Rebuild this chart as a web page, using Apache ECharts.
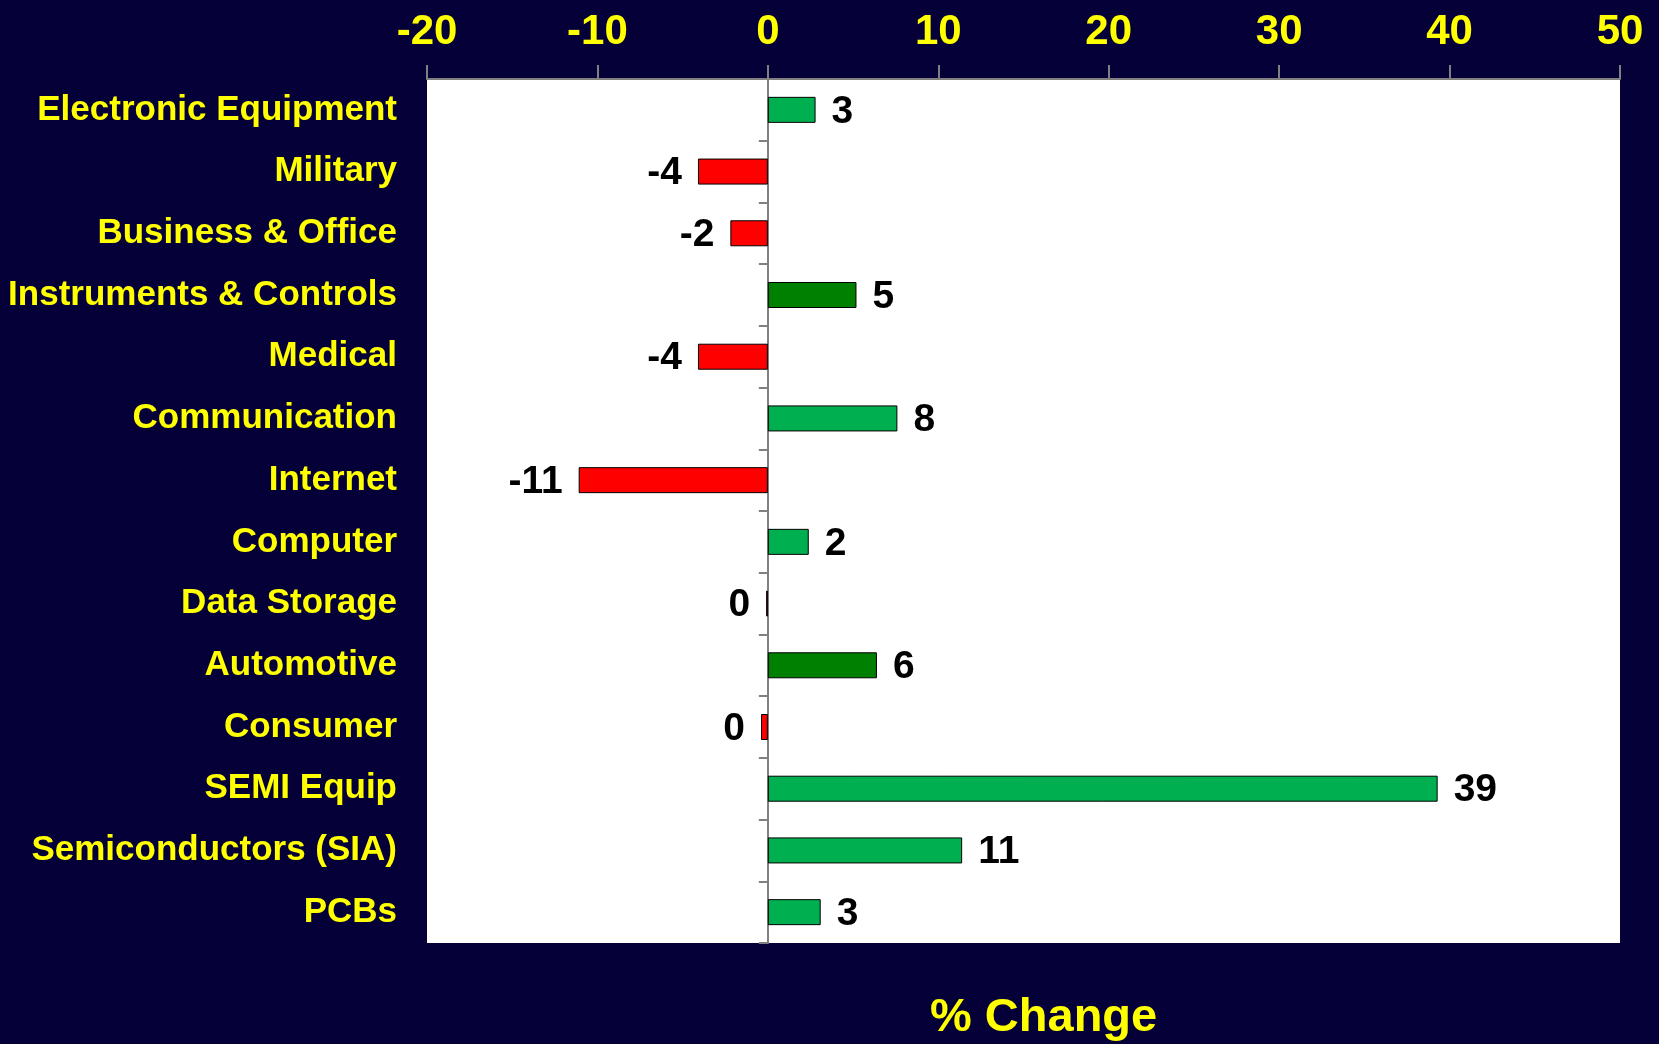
<!DOCTYPE html>
<html>
<head>
<meta charset="utf-8">
<script src="https://cdn.jsdelivr.net/npm/echarts@6/dist/echarts.min.js"></script>
<style>
    html, body { margin: 0; padding: 0; background: #050037; }
</style>
</head>
<body>
<div id="main" style="width: 1659px;height:1044px;"></div>
<script type="text/javascript">
    // categories, top to bottom
    var categories = ['Electronic Equipment', 'Military', 'Business & Office', 'Instruments & Controls',
        'Medical', 'Communication', 'Internet', 'Computer', 'Data Storage', 'Automotive',
        'Consumer', 'SEMI Equip', 'Semiconductors (SIA)', 'PCBs'];
    // % change
    var changes = [2.8, -4.1, -2.2, 5.2, -4.1, 7.6, -11.1, 2.4, -0.1, 6.4, -0.4, 39.3, 11.4, 3.1];
    // the bars drawn in dark green
    var darkGreen = ['Instruments & Controls', 'Automotive'];
    var xTicks = [-20, -10, 0, 10, 20, 30, 40, 50];

    var font = 'Arial, "Liberation Sans", sans-serif';

    var myChart = echarts.init(document.getElementById('main'));

    var barData = changes.map(function (v, i) {
        var color = v < 0 ? '#ff0000' : (darkGreen.indexOf(categories[i]) >= 0 ? '#008000' : '#00b050');
        return {
            value: v,
            itemStyle: {color: color},
            label: {position: v < 0 ? 'left' : 'right'}
        };
    });

    var option = {
        backgroundColor: '#050037',
        animation: false,
        title: {
            text: '% Change',
            left: 925,
            top: 990,
            textStyle: {color: '#ffff00', fontSize: 47, fontWeight: 'bold', fontFamily: font}
        },
        grid: {
            left: 427,
            right: 39,
            top: 79,
            bottom: 101,
            containLabel: false,
            outerBoundsMode: 'none',
            show: true,
            backgroundColor: '#ffffff',
            borderWidth: 0
        },
        xAxis: {
            type: 'value',
            position: 'top',
            min: xTicks[0],
            max: xTicks[xTicks.length - 1],
            interval: 10,
            axisLine: {show: true, lineStyle: {color: '#808080', width: 2}},
            axisTick: {show: true, length: 14, lineStyle: {color: '#808080', width: 2}},
            splitLine: {show: false},
            axisLabel: {
                color: '#ffff00', fontSize: 42, fontWeight: 'bold', fontFamily: font, margin: 26
            }
        },
        yAxis: {
            type: 'category',
            inverse: true,
            data: categories,
            axisLine: {show: true, onZero: true, lineStyle: {color: '#808080', width: 2}},
            axisTick: {show: true, length: 9, lineStyle: {color: '#808080', width: 2}},
            axisLabel: {
                color: '#ffff00', fontSize: 35, fontWeight: 'bold', fontFamily: font, margin: 30,
                padding: [4, 0, 0, 0]
            }
        },
        series: [
            {
                type: 'bar',
                barWidth: 26,
                data: barData,
                itemStyle: {borderColor: '#000000', borderWidth: 1},
                label: {
                    show: true,
                    distance: 16,
                    offset: [0, 2],
                    color: '#000000',
                    fontSize: 39,
                    fontWeight: 'bold',
                    fontFamily: font,
                    formatter: function (p) { return String(Math.round(p.value)); }
                }
            }
        ]
    };
    myChart.setOption(option);
</script>
</body>
</html>
